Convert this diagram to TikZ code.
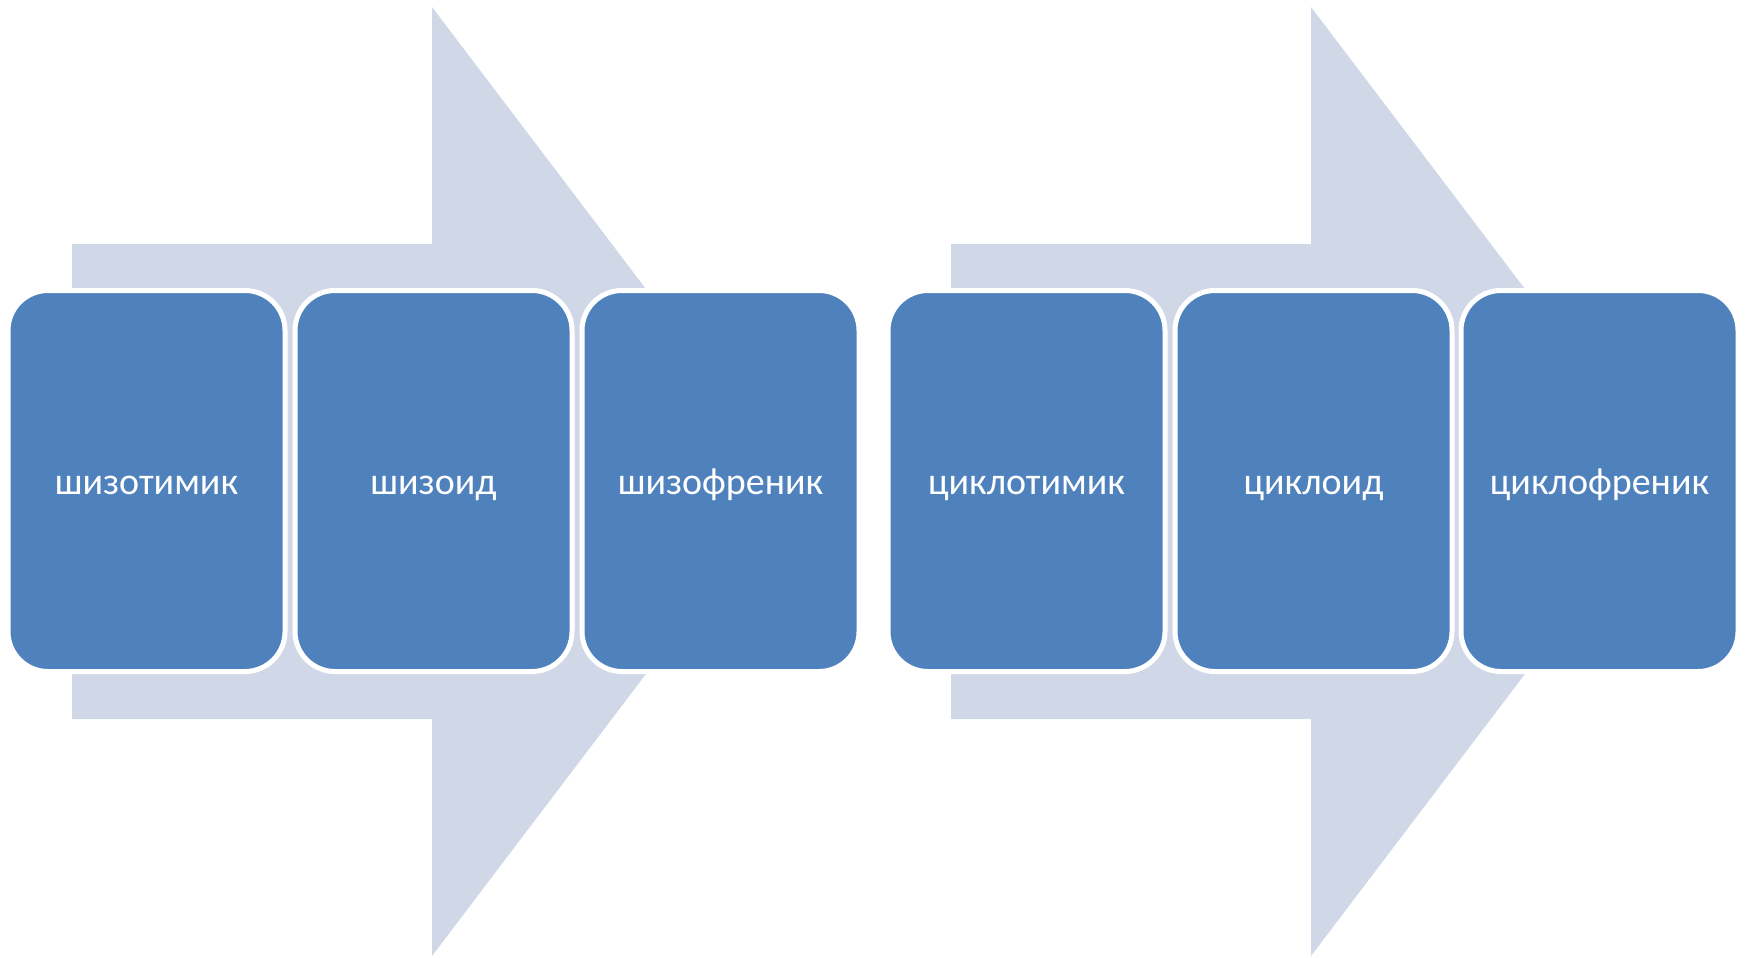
\documentclass[tikz,border=0pt]{standalone}
\usepackage{fontspec}
\setmainfont{Carlito}
\definecolor{boxblue}{HTML}{4F81BD}
\definecolor{arrowgray}{HTML}{D0D8E8}
\tikzset{
  stage/.style={draw=white, line width=5pt, fill=boxblue, rounded corners=40pt,
    minimum width=277pt, minimum height=381pt, inner sep=0pt,
    text height=26pt, text depth=0pt,
    text=white, font=\fontsize{38}{45}\selectfont},
  bigarrow/.style={fill=arrowgray, draw=none}
}
\begin{document}
\begin{tikzpicture}[x=1pt,y=-1pt]
\useasboundingbox (0,0) rectangle (1745,958);
% background arrows
\foreach \dx in {0,879}{
  \fill[bigarrow] (72+\dx,244) -- (432+\dx,244) -- (432+\dx,7) -- (792+\dx,481.5)
    -- (432+\dx,956) -- (432+\dx,719) -- (72+\dx,719) -- cycle;
}
% boxes
\node[stage] (s1) at (146.5,481) {шизотимик};
\node[stage] (s2) at (433.5,481) {шизоид};
\node[stage] (s3) at (720.5,481) {шизофреник};
\node[stage] (c1) at (1026.5,481) {циклотимик};
\node[stage] (c2) at (1313.5,481) {циклоид};
\node[stage] (c3) at (1599.5,481) {циклофреник};
\end{tikzpicture}
\end{document}
